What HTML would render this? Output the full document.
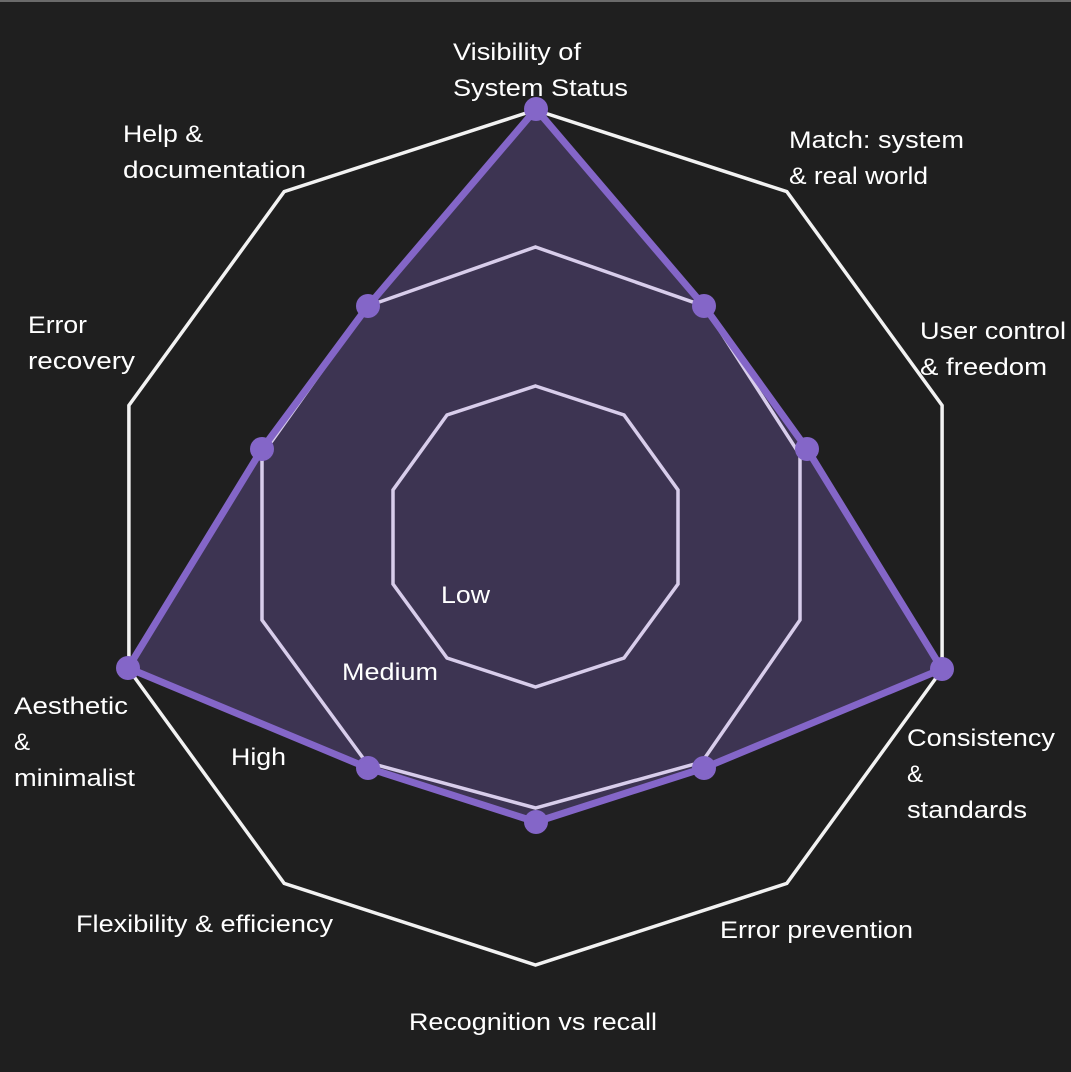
<!DOCTYPE html>
<html><head><meta charset="utf-8"><style>
html,body{margin:0;padding:0;background:#1f1f1f;}
svg{display:block}
text{font-family:"Liberation Sans",sans-serif;font-size:24px;fill:#fff;}
</style></head><body>
<svg width="1071" height="1072" viewBox="0 0 1071 1072">
<rect x="0" y="0" width="1071" height="1072" fill="#1f1f1f"/>
<rect x="0" y="0" width="1071" height="2" fill="#6a6a6a"/>
<polygon points="535.5,110 786.8,191.6 942.1,405.4 942.1,669.6 786.8,883.4 535.5,965 284.2,883.4 128.9,669.6 128.9,405.4 284.2,191.6" fill="none" stroke="#f2f2f2" stroke-width="3.5"/>
<polygon points="536,109 704,306 807,449 942,669 704,768 536,822 368,768 128,668 262,449 368,306" fill="#3d3452"/>
<polygon points="535.5,247 704,306 800,455 800,620 702,762 535.5,808 366,762 262,620 262,455 368,306" fill="none" stroke="#d8cdeb" stroke-width="3.5"/>
<polygon points="535.5,386 624,415 678,490 678,584 624,658 535.5,687 447,658 393,584 393,490 447,415" fill="none" stroke="#d8cdeb" stroke-width="3.5"/>
<polygon points="536,109 704,306 807,449 942,669 704,768 536,822 368,768 128,668 262,449 368,306" fill="none" stroke="#8466c8" stroke-width="7" stroke-linejoin="round"/>
<g fill="#8466c8">
<circle cx="536" cy="109" r="12"/><circle cx="704" cy="306" r="12"/><circle cx="807" cy="449" r="12"/><circle cx="942" cy="669" r="12"/><circle cx="704" cy="768" r="12"/><circle cx="536" cy="822" r="12"/><circle cx="368" cy="768" r="12"/><circle cx="128" cy="668" r="12"/><circle cx="262" cy="449" r="12"/><circle cx="368" cy="306" r="12"/>
</g>
<text x="453" y="60" textLength="128" lengthAdjust="spacingAndGlyphs">Visibility of</text>
<text x="453" y="96" textLength="175" lengthAdjust="spacingAndGlyphs">System Status</text>
<text x="789" y="148" textLength="175" lengthAdjust="spacingAndGlyphs">Match: system</text>
<text x="789" y="184" textLength="139" lengthAdjust="spacingAndGlyphs">&amp; real world</text>
<text x="920" y="339" textLength="146" lengthAdjust="spacingAndGlyphs">User control</text>
<text x="920" y="375" textLength="127" lengthAdjust="spacingAndGlyphs">&amp; freedom</text>
<text x="907" y="746" textLength="148" lengthAdjust="spacingAndGlyphs">Consistency</text>
<text x="907" y="782">&amp;</text>
<text x="907" y="818" textLength="120" lengthAdjust="spacingAndGlyphs">standards</text>
<text x="720" y="938" textLength="193" lengthAdjust="spacingAndGlyphs">Error prevention</text>
<text x="409" y="1030" textLength="248" lengthAdjust="spacingAndGlyphs">Recognition vs recall</text>
<text x="76" y="932" textLength="257" lengthAdjust="spacingAndGlyphs">Flexibility &amp; efficiency</text>
<text x="14" y="714" textLength="114" lengthAdjust="spacingAndGlyphs">Aesthetic</text>
<text x="14" y="750">&amp;</text>
<text x="14" y="786" textLength="121" lengthAdjust="spacingAndGlyphs">minimalist</text>
<text x="28" y="333" textLength="59" lengthAdjust="spacingAndGlyphs">Error</text>
<text x="28" y="369" textLength="107" lengthAdjust="spacingAndGlyphs">recovery</text>
<text x="123" y="142" textLength="80" lengthAdjust="spacingAndGlyphs">Help &amp;</text>
<text x="123" y="178" textLength="183" lengthAdjust="spacingAndGlyphs">documentation</text>
<text x="441" y="603" textLength="49" lengthAdjust="spacingAndGlyphs">Low</text>
<text x="342" y="680" textLength="96" lengthAdjust="spacingAndGlyphs">Medium</text>
<text x="231" y="765" textLength="55" lengthAdjust="spacingAndGlyphs">High</text>
</svg>
</body></html>
